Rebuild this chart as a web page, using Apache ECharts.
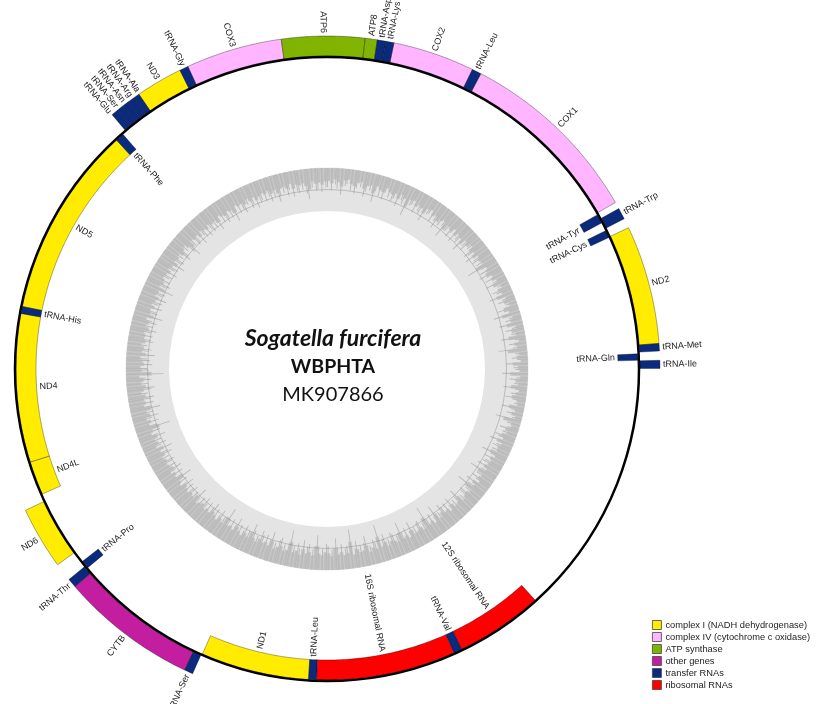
<!DOCTYPE html>
<html>
<head>
<meta charset="utf-8">
<script src="https://cdn.jsdelivr.net/npm/echarts@6.0.0/dist/echarts.min.js"></script>
<style>
  html, body { margin: 0; padding: 0; background: #fff; }
  #main { width: 817px; height: 704px; }
</style>
</head>
<body>
<div id="main"></div>
<script>
// genes, angles in degrees clockwise from the top of the map
var geneNames = ['tRNA-Asp','tRNA-Lys','COX2','tRNA-Leu','COX1','tRNA-Tyr','tRNA-Trp','tRNA-Cys','ND2','tRNA-Met',
  'tRNA-Gln','tRNA-Ile','12S ribosomal RNA','tRNA-Val','16S ribosomal RNA','tRNA-Leu','ND1','tRNA-Ser','CYTB','tRNA-Thr',
  'tRNA-Pro','ND6','ND4L','ND4','tRNA-His','ND5','tRNA-Phe','tRNA-Glu','tRNA-Ser','tRNA-Asn',
  'tRNA-Arg','tRNA-Ala','ND3','tRNA-Gly','COX3','ATP6','ATP8'];
var geneStart = [8.7,10.2,11.6,25.9,27.5,60.3,61.2,63.6,64.9,85.6,
  87.2,88.5,138.0,154.3,155.9,181.9,183.4,203.8,205.3,229.2,
  230.3,234.0,246.3,252.6,280.3,281.6,317.4,319.8,321.0,322.2,
  323.3,324.5,325.6,333.8,335.3,352.1,6.6];
var geneEnd = [10.2,11.6,25.9,27.5,60.0,62.0,63.2,65.0,85.6,86.9,
  88.4,89.9,154.3,155.9,181.9,183.4,203.6,205.3,229.2,230.8,
  231.8,244.9,252.6,280.3,281.6,317.4,319.0,321.0,322.2,323.3,
  324.5,325.6,333.8,335.3,352.1,6.6,8.7];
// 1 = drawn outside the circle, -1 = inside
var geneStrand = [1,1,1,1,1,-1,1,-1,1,1,
  -1,1,-1,-1,-1,-1,-1,1,1,1,
  -1,1,-1,-1,-1,-1,-1,1,1,1,
  1,1,1,1,1,1,1];
var geneGroup = [4,4,1,4,1,4,4,4,0,4,
  4,4,5,4,5,4,0,4,3,4,
  4,0,0,0,4,0,4,4,4,4,
  4,4,0,4,1,2,2];

var groupNames = ['complex I (NADH dehydrogenase)','complex IV (cytochrome c oxidase)','ATP synthase','other genes','transfer RNAs','ribosomal RNAs'];
var groupColors = ['#ffec00','#ffb5ff','#80b400','#c41ea0','#0a2a7d','#ff0000'];

// inner GC ring, one value per degree (depth of the dark bar, % of ring width)
var gcContent = [
  44,52,38,47,61,40,35,49,55,42,37,58,46,41,66,39,48,53,36,45,
  50,43,57,39,47,71,42,38,54,45,49,62,40,36,51,44,59,47,41,68,
  46,53,40,57,44,49,63,42,51,38,55,47,60,43,50,45,74,41,48,56,
  39,47,33,52,28,44,36,58,30,41,26,49,35,62,29,38,55,27,43,31,
  57,25,40,33,66,28,37,24,51,34,29,60,26,42,31,55,27,36,48,30,
  25,52,29,38,23,61,31,27,44,35,49,40,57,37,46,42,63,39,51,44,
  48,56,42,67,45,51,39,58,47,72,44,53,49,41,64,50,46,59,43,55,
  52,61,47,70,44,56,50,83,46,58,53,49,66,45,57,51,76,48,55,60,
  47,63,52,88,49,57,45,69,54,50,62,46,91,53,48,59,51,73,47,56,
  61,49,55,80,47,58,52,66,45,57,50,84,53,48,62,55,46,70,51,59,
  54,63,48,57,72,51,60,46,55,67,49,58,53,78,50,61,47,56,65,52,
  58,49,62,55,47,69,53,60,51,57,64,48,55,73,52,59,46,63,54,50,
  56,48,61,52,67,45,58,50,63,47,55,82,51,59,46,62,53,70,49,57,
  52,60,47,56,64,50,58,45,87,53,49,61,55,48,66,51,57,46,59,53,
  55,49,62,51,58,46,68,53,50,60,47,56,63,49,54,71,48,57,52,45,
  50,58,46,53,65,49,55,47,60,52,44,57,69,48,54,50,62,46,53,58,
  47,55,51,63,45,52,58,49,54,67,46,53,50,59,44,56,48,61,52,47,
  53,45,58,49,64,51,46,55,42,60,48,53,47,57,70,44,52,49,56,46
];

var titleLines = ['Sogatella furcifera', 'WBPHTA', 'MK907866'];

// radii in axis units (= px)
var RING = 312, GENE_W = 20, GC_IN = 158, GC_OUT = 201;

function norm(a) { a = a % 360; return a < 0 ? a + 360 : a; }
function spanEnd(i) { return geneEnd[i] < geneStart[i] ? geneEnd[i] + 360 : geneEnd[i]; }

// label angles, pushed apart where they crowd
var labelAngle = geneNames.map(function (n, i) { return norm((geneStart[i] + spanEnd(i)) / 2); });
function spread(strand, minGap) {
  var idx = [];
  for (var i = 0; i < geneNames.length; i++) if (geneStrand[i] === strand) idx.push(i);
  idx.sort(function (a, b) { return labelAngle[a] - labelAngle[b]; });
  for (var it = 0; it < 60; it++) {
    for (var k = 1; k < idx.length; k++) {
      var d = labelAngle[idx[k]] - labelAngle[idx[k - 1]];
      if (d < minGap) {
        var push = (minGap - d) / 2;
        labelAngle[idx[k - 1]] -= push;
        labelAngle[idx[k]] += push;
      }
    }
  }
}
spread(1, 1.5);
spread(-1, 1.6);

function arcPoly(api, r0, r1, a0, a1) {
  var pts = [], n = Math.max(2, Math.ceil((a1 - a0) / 0.5)), k;
  for (k = 0; k <= n; k++) pts.push(api.coord([r1, norm(a0 + (a1 - a0) * k / n)]));
  for (k = n; k >= 0; k--) pts.push(api.coord([r0, norm(a0 + (a1 - a0) * k / n)]));
  return pts;
}
function dist(p, q) { return Math.sqrt((p[0] - q[0]) * (p[0] - q[0]) + (p[1] - q[1]) * (p[1] - q[1])); }

function renderGene(params, api) {
  var i = api.value(0);
  var out = geneStrand[i] === 1;
  var r0 = out ? RING + 1 : RING - GENE_W - 1;
  var r1 = out ? RING + GENE_W + 1 : RING - 1;
  var pts = arcPoly(api, r0, r1, geneStart[i], spanEnd(i));
  var la = norm(labelAngle[i]);
  var c = api.coord([0, 0]);
  var p = api.coord([out ? r1 + 3 : r0 - 3, la]);
  var ux = (p[0] - c[0]), uy = (p[1] - c[1]);
  var rightHalf = la > 0.01 && la < 180;
  var dx = rightHalf ? ux : -ux, dy = rightHalf ? uy : -uy;
  var align = (out === rightHalf) ? 'left' : 'right';
  return {
    type: 'group',
    children: [{
      type: 'polygon',
      shape: { points: pts },
      style: { fill: groupColors[geneGroup[i]], stroke: 'rgba(0,0,0,0.55)', lineWidth: 0.6 }
    }, {
      type: 'text',
      x: p[0], y: p[1],
      rotation: -Math.atan2(dy, dx),
      style: {
        text: geneNames[i], fill: '#222', font: '9px "Liberation Sans", Arial, sans-serif',
        align: align, verticalAlign: 'middle'
      }
    }]
  };
}

var series = [];

// light GC ring background and 50% line
series.push({
  type: 'custom', coordinateSystem: 'polar', silent: true, z: 1,
  data: [[0, 0]],
  renderItem: function (params, api) {
    var c = api.coord([0, 0]);
    return {
      type: 'ring',
      shape: { cx: c[0], cy: c[1], r: dist(c, api.coord([GC_OUT, 0])), r0: dist(c, api.coord([GC_IN, 0])) },
      style: { fill: '#e4e4e4' }
    };
  }
});
// each degree: a solid block plus a hairline reaching the full value
series.push({
  type: 'custom', coordinateSystem: 'polar', silent: true, z: 2,
  data: gcContent.map(function (v, i) { return [i, v]; }),
  renderItem: function (params, api) {
    var a = api.value(0), v = api.value(1);
    var span = GC_OUT - GC_IN;
    var rFull = GC_OUT - v / 100 * span;
    var rSolid = GC_OUT - v * 0.68 / 100 * span;
    var off = (params.dataIndex % 3) * 0.25;
    return {
      type: 'group',
      children: [{
        type: 'polygon',
        shape: { points: arcPoly(api, rSolid, GC_OUT, a, a + 1) },
        style: { fill: '#bfbfbf', stroke: '#cacaca', lineWidth: 0.4 }
      }, {
        type: 'polygon',
        shape: { points: arcPoly(api, rFull, GC_OUT, a + off, a + off + 0.3) },
        style: { fill: '#b9b9b9' }
      }]
    };
  }
});
series.push({
  type: 'custom', coordinateSystem: 'polar', silent: true, z: 3,
  data: [[0, 0]],
  renderItem: function (params, api) {
    var c = api.coord([0, 0]);
    return {
      type: 'circle',
      shape: { cx: c[0], cy: c[1], r: dist(c, api.coord([(GC_IN + GC_OUT) / 2, 0])) },
      style: { fill: 'none', stroke: 'rgba(120,120,120,0.55)', lineWidth: 0.7 }
    };
  }
});

// one series per gene group, so the legend gets its colours
groupNames.forEach(function (g, gi) {
  var data = [];
  for (var i = 0; i < geneNames.length; i++) if (geneGroup[i] === gi) data.push([i, 0]);
  series.push({
    name: g, type: 'custom', coordinateSystem: 'polar', z: 4,
    itemStyle: { color: groupColors[gi] },
    data: data,
    renderItem: renderGene
  });
});

// genome circle
series.push({
  type: 'custom', coordinateSystem: 'polar', silent: true, z: 6,
  data: [[0, 0]],
  renderItem: function (params, api) {
    var c = api.coord([0, 0]);
    return {
      type: 'circle',
      shape: { cx: c[0], cy: c[1], r: dist(c, api.coord([RING, 0])) },
      style: { fill: 'none', stroke: '#000', lineWidth: 2.5 }
    };
  }
});

var chart = echarts.init(document.getElementById('main'));
chart.setOption({
  animation: false,
  backgroundColor: '#fff',
  polar: { center: [327, 369], radius: 400 },
  angleAxis: { type: 'value', min: 0, max: 360, startAngle: 90, clockwise: true, show: false },
  radiusAxis: { type: 'value', min: 0, max: 400, show: false },
  legend: {
    orient: 'vertical', left: 652, top: 619, padding: 0,
    icon: 'rect', itemWidth: 9, itemHeight: 9, itemGap: 0,
    selectedMode: false,
    itemStyle: { borderColor: '#444', borderWidth: 0.8 },
    textStyle: { fontFamily: '"Liberation Sans", Arial, sans-serif', fontSize: 9.3, color: '#222', lineHeight: 12, padding: [0, 0, 0, -1] },
    data: groupNames
  },
  graphic: [
    { type: 'text', x: 333, y: 339, style: { text: titleLines[0], font: 'italic bold 23px Lato, sans-serif', fill: '#111', align: 'center', verticalAlign: 'middle' } },
    { type: 'text', x: 333, y: 367, style: { text: titleLines[1], font: 'bold 19.5px Lato, sans-serif', fill: '#111', align: 'center', verticalAlign: 'middle' } },
    { type: 'text', x: 333, y: 395, style: { text: titleLines[2], font: '20px Lato, sans-serif', fill: '#111', align: 'center', verticalAlign: 'middle' } }
  ],
  series: series
});
</script>
</body>
</html>
